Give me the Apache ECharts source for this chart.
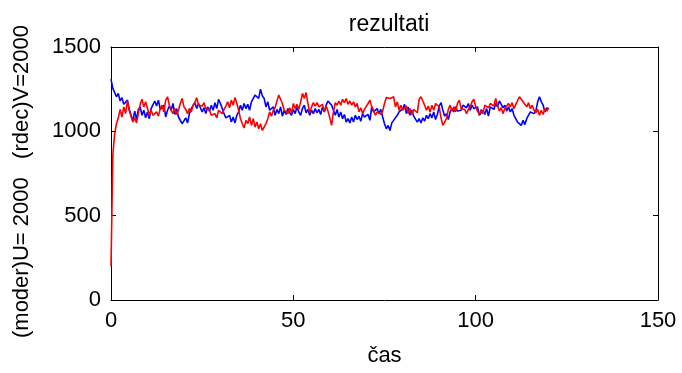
<!DOCTYPE html>
<html>
<head>
<meta charset="utf-8">
<script src="https://cdn.jsdelivr.net/npm/echarts@6/dist/echarts.min.js"></script>
<style>
  html, body { margin: 0; padding: 0; background: #fff; }
  #main { width: 682px; height: 373px; }
</style>
</head>
<body>
<div id="main"></div>
<script>
// sample spacing of the simulation (time units)
const STEP = 0.5;

const xTicks = [0, 50, 100, 150];
const yTicks = [0, 500, 1000, 1500];

// (moder) U – blue
const blueU = [
  1310, 1255, 1245, 1205, 1225, 1180, 1200, 1160, 1150, 1185,
  1130, 1095, 1060, 1120, 1070, 1130, 1145, 1095, 1125, 1080,
  1115, 1075, 1135, 1145, 1180, 1150, 1185, 1130, 1120, 1155,
  1085, 1125, 1150, 1125, 1165, 1100, 1135, 1085, 1075, 1045,
  1045, 1080, 1050, 1105, 1135, 1145, 1170, 1135, 1165, 1140,
  1115, 1140, 1105, 1145, 1120, 1155, 1125, 1170, 1135, 1190,
  1165, 1135, 1105, 1080, 1075, 1095, 1055, 1085, 1050, 1095,
  1115, 1155, 1125, 1165, 1135, 1160, 1125, 1175, 1185, 1215,
  1225, 1195, 1250, 1210, 1195, 1145, 1175, 1125, 1115, 1145,
  1095, 1130, 1105, 1145, 1090, 1125, 1100, 1135, 1110, 1095,
  1130, 1105, 1145, 1115, 1095, 1135, 1155, 1110, 1130, 1095,
  1125, 1105, 1135, 1110, 1130, 1100, 1145, 1115, 1155, 1180,
  1190, 1155, 1145, 1095, 1130, 1085, 1115, 1075, 1100, 1055,
  1075, 1050, 1085, 1055, 1095, 1070, 1090, 1060, 1105, 1085,
  1085, 1100, 1065, 1145, 1115, 1105, 1135, 1105, 1130, 1085,
  1045, 1015, 1035, 1005, 1050, 1065, 1055, 1095, 1115, 1105,
  1135, 1160, 1105, 1145, 1095, 1125, 1090, 1080, 1055, 1075,
  1050, 1080, 1060, 1095, 1075, 1105, 1080, 1115, 1070, 1100,
  1150, 1170, 1125, 1090, 1105, 1070, 1115, 1135, 1115, 1145,
  1120, 1115, 1125, 1155, 1160, 1140, 1165, 1125, 1155, 1135,
  1125, 1145, 1095, 1095, 1125, 1100, 1135, 1090, 1145, 1150,
  1130, 1165, 1145, 1180, 1160, 1140, 1155, 1120, 1145, 1115,
  1135, 1095, 1085, 1055, 1055, 1035, 1065, 1040, 1075, 1085,
  1115, 1125, 1105, 1120, 1175, 1205, 1175, 1155, 1115, 1140,
  1130
];

// (rdec) V – red
const redV = [
  200, 860, 985, 1045, 1080, 1130, 1085, 1145, 1105, 1180,
  1125, 1090, 1055, 1080, 1050, 1105, 1160, 1190, 1145, 1175,
  1135, 1095, 1125, 1095, 1085, 1115, 1090, 1135, 1155, 1115,
  1185, 1205, 1155, 1125, 1105, 1135, 1100, 1125, 1165, 1195,
  1145, 1130, 1105, 1135, 1115, 1155, 1170, 1200, 1155, 1145,
  1150, 1170, 1135, 1125, 1130, 1095, 1095, 1105, 1080, 1125,
  1130, 1105, 1130, 1150, 1175, 1140, 1185, 1155, 1200, 1165,
  1125, 1075, 1045, 1020, 1065, 1045, 1085, 1035, 1075, 1025,
  1055, 1015, 1045, 1005, 1000, 1045, 1075, 1115, 1090, 1125,
  1140, 1180, 1215, 1190, 1165, 1125, 1125, 1105, 1140, 1110,
  1165, 1135, 1160, 1130, 1175, 1225, 1195, 1230, 1165, 1110,
  1145, 1170, 1150, 1170, 1145, 1140, 1160, 1115, 1150, 1120,
  1080, 1035, 1115, 1170, 1155, 1180, 1155, 1190, 1170, 1195,
  1160, 1180, 1155, 1175, 1145, 1165, 1115, 1140, 1105, 1130,
  1125, 1165, 1185, 1145, 1125, 1095, 1115, 1120, 1100, 1120,
  1165, 1200, 1205, 1195, 1190, 1205, 1145, 1175, 1125, 1155,
  1125, 1120, 1150, 1105, 1135, 1100, 1130, 1140, 1110, 1190,
  1205, 1180, 1155, 1125, 1150, 1115, 1155, 1125, 1165, 1170,
  1145, 1080, 1035, 1030, 1075, 1130, 1155, 1120, 1145, 1115,
  1165, 1185, 1135, 1125, 1130, 1105, 1130, 1145, 1175, 1190,
  1145, 1120, 1100, 1130, 1105, 1155, 1165, 1140, 1165, 1175,
  1150, 1195, 1155, 1120, 1140, 1105, 1135, 1140, 1165, 1145,
  1170, 1135, 1160, 1170, 1205, 1215, 1175, 1160, 1145, 1170,
  1135, 1155, 1125, 1110, 1130, 1095, 1125, 1100, 1135, 1120,
  1140
];

const toPairs = (arr) => arr.map((v, i) => [i * STEP, v]);

const FONT = '"Liberation Sans", Arial, Helvetica, sans-serif';
const boxLine = { show: true, onZero: false, lineStyle: { color: '#000', width: 1 } };
const inTick = { show: true, inside: true, length: 5, lineStyle: { color: '#000', width: 1 } };
const plain = (v) => String(v);

const chart = echarts.init(document.getElementById('main'));
chart.setOption({
  animation: false,
  backgroundColor: '#fff',
  title: {
    text: 'rezultati',
    left: 384,
    textAlign: 'center',
    top: 8,
    textStyle: { fontFamily: FONT, fontSize: 23, fontWeight: 'normal', color: '#000' }
  },
  grid: { left: 111, right: 24, top: 47, bottom: 73, containLabel: false },
  xAxis: [
    {
      type: 'value', min: xTicks[0], max: xTicks[xTicks.length - 1], interval: 50,
      name: 'čas', nameLocation: 'middle', nameGap: 45,
      nameTextStyle: { fontFamily: FONT, fontSize: 22, color: '#000' },
      axisLine: boxLine, axisTick: inTick, splitLine: { show: false },
      axisLabel: { fontFamily: FONT, fontSize: 22, color: '#000', margin: 10, formatter: plain }
    },
    {
      type: 'value', position: 'top', min: xTicks[0], max: xTicks[xTicks.length - 1], interval: 50,
      axisLine: boxLine, axisTick: inTick, splitLine: { show: false }, axisLabel: { show: false }
    }
  ],
  yAxis: [
    {
      type: 'value', min: yTicks[0], max: yTicks[yTicks.length - 1], interval: 500,
      name: '(moder)U= 2000   (rdec)V=2000', nameLocation: 'middle', nameGap: 78,
      nameTextStyle: { fontFamily: FONT, fontSize: 22, color: '#000', padding: [0, 16, 0, 0] },
      axisLine: boxLine, axisTick: inTick, splitLine: { show: false },
      axisLabel: { fontFamily: FONT, fontSize: 22, color: '#000', margin: 10, formatter: plain }
    },
    {
      type: 'value', position: 'right', min: yTicks[0], max: yTicks[yTicks.length - 1], interval: 500,
      axisLine: boxLine, axisTick: inTick, splitLine: { show: false }, axisLabel: { show: false }
    }
  ],
  series: [
    {
      type: 'line', data: toPairs(blueU), showSymbol: false,
      lineStyle: { color: '#0000ff', width: 1.6 }, itemStyle: { color: '#0000ff' }
    },
    {
      type: 'line', data: toPairs(redV), showSymbol: false,
      lineStyle: { color: '#ff0000', width: 1.6 }, itemStyle: { color: '#ff0000' }
    }
  ]
});
</script>
</body>
</html>
